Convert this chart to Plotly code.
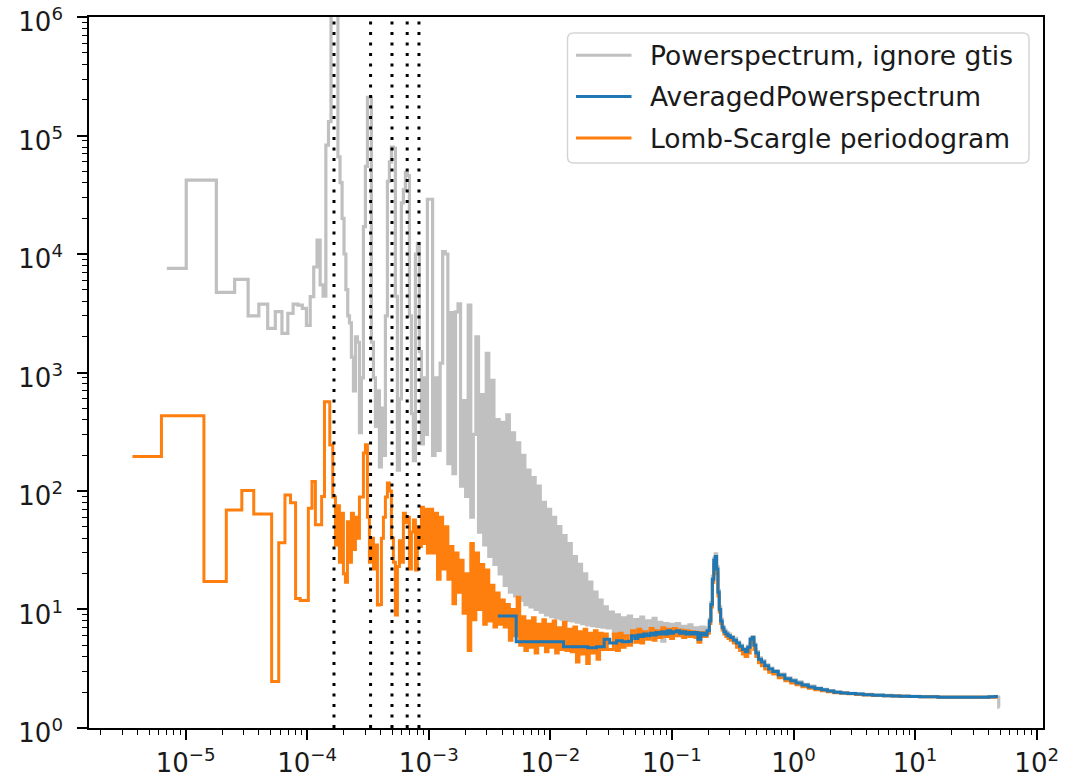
import plotly.graph_objects as go

# ---------------- data ----------------
# Powerspectrum, ignore gtis : low-frequency bins
GREY_FREQ_LOW = [7.0e-6, 1.46e-5, 2.19e-5, 2.92e-5, 3.65e-5, 4.38e-5, 5.11e-5, 5.84e-5, 6.57e-5, 7.30e-5,
                 8.03e-5, 8.76e-5, 9.49e-5, 1.022e-4, 1.095e-4, 1.168e-4, 1.241e-4, 1.314e-4, 1.387e-4, 1.46e-4,
                 1.533e-4, 1.606e-4, 1.679e-4, 1.752e-4, 1.825e-4, 1.898e-4, 1.971e-4, 2.044e-4, 2.117e-4, 2.19e-4,
                 2.263e-4]
GREY_POW_LOW = [7570, 42000, 4750, 6100, 3000, 3770, 2360, 3260, 2140, 3160,
                3780, 3700, 3480, 2500, 4370, 7770, 13100, 5500, 4400, 83000,
                131000, 2.0e6, 3.0e6, 1.5e6, 66000, 40000, 20000, 10000, 5000, 3000,
                2620]

# Lomb-Scargle periodogram : low-frequency bins
ORANGE_FREQ_LOW = [3.65e-6, 1.095e-5, 1.825e-5, 2.555e-5, 3.285e-5, 4.015e-5, 4.745e-5, 5.475e-5, 6.205e-5, 6.935e-5,
                   7.665e-5, 8.395e-5, 9.125e-5, 9.855e-5, 1.0585e-4, 1.1315e-4, 1.2045e-4, 1.2775e-4, 1.3505e-4, 1.4235e-4,
                   1.4965e-4, 1.5695e-4]
ORANGE_POW_LOW = [195, 432, 17.2, 69, 100.7, 64, 64, 2.46, 36.6, 92.5,
                  79.7, 12.4, 11.9, 11.9, 71.5, 120, 52, 52, 90, 567,
                  567, 244]

# frequencies sampled in the harmonic region (1.7e-4 .. 1e-3)
MID_FREQ = [1.674e-4, 1.739e-4, 1.806e-4, 1.875e-4, 1.948e-4, 2.023e-4, 2.101e-4, 2.183e-4, 2.267e-4, 2.354e-4,
            2.445e-4, 2.539e-4, 2.637e-4, 2.739e-4, 2.844e-4, 2.954e-4, 3.068e-4, 3.187e-4, 3.309e-4, 3.437e-4,
            3.570e-4, 3.708e-4, 3.851e-4, 3.999e-4, 4.154e-4, 4.314e-4, 4.480e-4, 4.653e-4, 4.833e-4, 5.019e-4,
            5.213e-4, 5.414e-4, 5.623e-4, 5.840e-4, 6.066e-4, 6.299e-4, 6.543e-4, 6.795e-4, 7.057e-4, 7.330e-4,
            7.612e-4, 7.907e-4, 8.212e-4, 8.529e-4, 8.858e-4, 9.200e-4, 9.556e-4, 9.924e-4]
ORANGE_POW_MID = [89, 35, 75, 25, 65, 20, 17, 55, 25, 65,
                  32, 60, 40, 89, 89, 209, 245, 60, 25, 40,
                  22, 35, 10.9, 11, 40, 60, 89, 117, 100, 40,
                  25, 9.0, 23, 38, 25, 65, 54, 60, 22, 45,
                  57, 21.5, 50, 34, 73, 36, 70, 30]
GREY_POW_MID = [1350, 700, 2000, 1800, 310, 900, 17000, 55000, 210000, 210000,
                1800, 900, 350, 700, 160, 500, 200, 3000, 41000, 60000,
                80000, 78000, 4400, 150, 600, 27000, 35000, 49000, 46000, 3000,
                450, 180, 10000, 12300, 1500, 250, 900, 300, 29000]

# frequencies sampled in the noisy region (1e-3 .. 3e-2)
DENSE_FREQ = [1.05e-3, 1.10e-3, 1.15e-3, 1.21e-3, 1.27e-3, 1.33e-3, 1.40e-3, 1.47e-3, 1.54e-3, 1.62e-3,
              1.70e-3, 1.78e-3, 1.87e-3, 1.96e-3, 2.06e-3, 2.16e-3, 2.27e-3, 2.38e-3, 2.50e-3, 2.63e-3,
              2.76e-3, 2.90e-3, 3.04e-3, 3.19e-3, 3.35e-3, 3.52e-3, 3.70e-3, 3.88e-3, 4.07e-3, 4.28e-3,
              4.49e-3, 4.71e-3, 4.95e-3, 5.20e-3, 5.46e-3, 5.73e-3, 6.02e-3, 6.32e-3, 6.63e-3, 6.96e-3,
              7.31e-3, 7.68e-3, 8.06e-3, 8.46e-3, 8.89e-3, 9.33e-3, 9.80e-3, 1.03e-2, 1.08e-2, 1.13e-2,
              1.19e-2, 1.25e-2, 1.31e-2, 1.38e-2, 1.45e-2, 1.52e-2, 1.60e-2, 1.68e-2, 1.76e-2, 1.85e-2,
              1.94e-2, 2.04e-2, 2.14e-2, 2.25e-2, 2.36e-2, 2.48e-2, 2.60e-2, 2.73e-2, 2.87e-2, 3.01e-2]
GREY_POW_DENSE = [29000, 200, 900, 220, 1200, 10500, 10000, 170, 3200, 140,
                  3250, 3800, 110, 580, 90, 3700, 60, 300, 2000, 45,
                  650, 35, 1450, 28, 860, 24, 400, 20, 380, 16,
                  440, 14, 310, 13, 255, 12, 200, 11, 150, 10.5,
                  130, 10, 110, 9.5, 80, 9.0, 70, 8.7, 60, 8.5,
                  50, 8.3, 42, 8.1, 36, 8.0, 28, 7.8, 24, 7.6,
                  20, 7.4, 17, 7.3, 14, 7.2, 12, 7.1, 10.5, 7.0]
ORANGE_POW_DENSE = [70, 30, 65, 18, 60, 22, 50, 18, 34, 11.2,
                    30, 14, 26, 9.3, 20, 4.5, 36, 8.2, 30, 10,
                    24, 7.5, 21.5, 8, 16, 7.1, 13.8, 7.5, 12, 7.1,
                    11, 5.5, 10, 6, 12.7, 5, 8.7, 4.5, 8, 4.8,
                    8.5, 4.3, 7.5, 5, 8.2, 4.4, 7.5, 4.8, 8, 4.3,
                    7, 4.6, 7.8, 4.5, 6.8, 4.4, 7.1, 3.6, 6.5, 4.2,
                    6.8, 3.5, 6.3, 4.3, 6.6, 3.8, 6.3, 4.6, 6.2, 4.6]

# frequencies sampled above 3e-2 (QPO and white-noise level)
HF_FREQ = [0.032, 0.034, 0.036, 0.038, 0.040, 0.0425, 0.045, 0.048, 0.051, 0.054,
           0.057, 0.060, 0.064, 0.068, 0.072, 0.076, 0.080, 0.085, 0.090, 0.095,
           0.100, 0.106, 0.112, 0.119, 0.126, 0.134, 0.142, 0.150, 0.159, 0.168,
           0.178, 0.189, 0.200, 0.206, 0.212, 0.218, 0.224, 0.230, 0.236, 0.242,
           0.248, 0.255, 0.263, 0.272, 0.283, 0.295, 0.31, 0.33, 0.35, 0.37,
           0.39, 0.41, 0.43, 0.45, 0.465, 0.48, 0.50, 0.53, 0.56, 0.60,
           0.65, 0.70, 0.80, 0.90, 1.0, 1.1, 1.25, 1.4, 1.6, 1.8,
           2.0, 2.3, 2.6, 3.0, 3.5, 4.0, 5.0, 6.0, 7.0, 8.0,
           10, 12, 14, 17, 20, 24, 28, 33, 38, 43,
           48]
GREY_FREQ_END = [49.5]
GREY_POW_HF = [9.5, 6.0, 9.0, 6.2, 8.5, 6.0, 8.8, 6.3, 8.2, 6.1,
               8.6, 6.4, 8.0, 6.2, 8.4, 6.5, 7.8, 5.4, 7.6, 6.3,
               7.5, 6.0, 7.6, 6.2, 7.2, 6.3, 7.4, 6.4, 7.0, 6.0,
               7.1, 6.3, 7.0, 8.3, 11.5, 19, 27, 29.5, 23, 14.5,
               10.5, 8.3, 7.2, 6.7, 6.4, 6.2, 5.9, 5.7, 5.3, 5.0,
               4.7, 4.5, 4.9, 5.7, 5.9, 5.1, 4.4, 3.9, 3.7, 3.4,
               3.2, 3.05, 2.85, 2.65, 2.55, 2.45, 2.33, 2.25, 2.17, 2.12,
               2.07, 2.02, 1.99, 1.96, 1.94, 1.92, 1.9, 1.88, 1.87, 1.86,
               1.85, 1.84, 1.84, 1.83, 1.83, 1.83, 1.83, 1.83, 1.83, 1.83,
               1.82, 1.5]
ORANGE_POW_HF = [4.6, 6.2, 4.5, 6.3, 4.8, 6.0, 5.0, 6.6, 5.3, 6.8,
                 5.2, 6.5, 5.6, 6.9, 5.5, 6.6, 5.8, 7.0, 5.9, 6.8,
                 5.7, 6.9, 6.0, 6.7, 5.8, 6.6, 5.9, 6.5, 5.8, 5.3,
                 6.4, 5.9, 6.3, 7.6, 10.5, 17, 24, 26, 20, 13,
                 9.5, 7.6, 6.7, 6.2, 5.9, 5.7, 5.5, 5.2, 4.8, 4.5,
                 4.2, 4.0, 4.3, 5.2, 5.5, 4.6, 4.0, 3.55, 3.35, 3.15,
                 2.95, 2.85, 2.65, 2.5, 2.4, 2.32, 2.23, 2.16, 2.1, 2.06,
                 2.02, 1.98, 1.96, 1.94, 1.92, 1.9, 1.88, 1.87, 1.86, 1.85,
                 1.84, 1.83, 1.83, 1.82, 1.82, 1.82, 1.82, 1.82, 1.82, 1.82,
                 1.83]

# AveragedPowerspectrum
BLUE_FREQ_LOW = [3.7e-3, 7.4e-3, 1.11e-2, 1.48e-2, 1.85e-2, 2.22e-2, 2.59e-2, 2.96e-2]
BLUE_POW_LOW = [8.8, 5.35, 5.35, 4.85, 4.85, 4.75, 4.85, 5.6]
BLUE_POW_HF = [5.2, 5.2, 5.45, 5.45, 5.35, 5.35, 5.4, 6.0, 5.7, 6.1,
               5.9, 6.2, 6.0, 6.3, 6.1, 6.4, 6.2, 6.5, 6.2, 6.6,
               6.3, 6.5, 6.6, 6.3, 6.5, 6.2, 6.4, 6.2, 6.4, 5.6,
               6.3, 6.1, 6.6, 8.0, 11, 18, 26, 28, 22, 14,
               10, 8.0, 7.0, 6.5, 6.2, 6.0, 5.8, 5.5, 5.2, 4.9,
               4.6, 4.4, 4.8, 5.6, 5.8, 5.0, 4.3, 3.8, 3.6, 3.35,
               3.15, 3.0, 2.8, 2.6, 2.5, 2.4, 2.3, 2.22, 2.15, 2.1,
               2.05, 2.0, 1.97, 1.95, 1.93, 1.91, 1.89, 1.87, 1.86, 1.85,
               1.84, 1.83, 1.83, 1.82, 1.82, 1.82, 1.82, 1.82, 1.82, 1.83,
               1.84]

# orbital frequency and harmonics (dotted lines)
HARMONIC_FREQ = [1.66e-4, 3.32e-4, 4.98e-4, 6.64e-4, 8.30e-4]

X_TICKS = [1e-5, 1e-4, 1e-3, 1e-2, 1e-1, 1e0, 1e1, 1e2]
X_TICK_TEXT = ["10<sup>\u22125</sup>", "10<sup>\u22124</sup>", "10<sup>\u22123</sup>", "10<sup>\u22122</sup>",
               "10<sup>\u22121</sup>", "10<sup>0</sup>", "10<sup>1</sup>", "10<sup>2</sup>"]
Y_TICKS = [1e0, 1e1, 1e2, 1e3, 1e4, 1e5, 1e6]
Y_TICK_TEXT = ["10<sup>0</sup>", "10<sup>1</sup>", "10<sup>2</sup>", "10<sup>3</sup>",
               "10<sup>4</sup>", "10<sup>5</sup>", "10<sup>6</sup>"]

LABELS = ["Powerspectrum, ignore gtis", "AveragedPowerspectrum", "Lomb-Scargle periodogram"]
COLORS = ["#c0c0c0", "#1f77b4", "#ff7f0e"]

# ---------------- assemble series ----------------
grey_f = GREY_FREQ_LOW + MID_FREQ[9:] + DENSE_FREQ + HF_FREQ + GREY_FREQ_END
grey_p = GREY_POW_LOW + GREY_POW_MID + GREY_POW_DENSE + GREY_POW_HF
orange_f = ORANGE_FREQ_LOW + MID_FREQ + DENSE_FREQ + HF_FREQ
orange_p = ORANGE_POW_LOW + ORANGE_POW_MID + ORANGE_POW_DENSE + ORANGE_POW_HF
blue_f = BLUE_FREQ_LOW + HF_FREQ
blue_p = BLUE_POW_LOW + BLUE_POW_HF
assert len(grey_f) == len(grey_p), (len(grey_f), len(grey_p))
assert len(orange_f) == len(orange_p), (len(orange_f), len(orange_p))
assert len(blue_f) == len(blue_p), (len(blue_f), len(blue_p))

fig = go.Figure()
fig.add_trace(go.Scatter(x=grey_f, y=grey_p, mode="lines", name=LABELS[0],
                         line=dict(color=COLORS[0], width=3.2, shape="hvh"), showlegend=False))
fig.add_trace(go.Scatter(x=orange_f, y=orange_p, mode="lines", name=LABELS[2],
                         line=dict(color=COLORS[2], width=3, shape="hvh"), showlegend=False))
fig.add_trace(go.Scatter(x=blue_f, y=blue_p, mode="lines", name=LABELS[1],
                         line=dict(color=COLORS[1], width=3, shape="hvh"), showlegend=False))

# dotted vertical lines at the harmonics
hx, hy = [], []
for f in HARMONIC_FREQ:
    hx += [f, f, None]
    hy += [Y_TICKS[0], Y_TICKS[-1], None]
fig.add_trace(go.Scatter(x=hx, y=hy, mode="lines", showlegend=False, hoverinfo="skip",
                         line=dict(color="black", width=3, dash="3px,7.5px")))

# ---------------- layout ----------------
L, R, T, B = 89, 1043, 17, 728
W, H = 1081, 778
axis_common = dict(type="log", showline=True, linecolor="black", linewidth=1.6, mirror=True,
                   ticks="outside", ticklen=10, tickwidth=1.6, tickcolor="black",
                   showgrid=False, zeroline=False, tickmode="array", automargin=False,
                   ticklabeloverflow="allow",
                   tickfont=dict(family="DejaVu Sans", size=26, color="#1a1a1a"),
                   minor=dict(ticks="outside", ticklen=5, tickwidth=1.2, tickcolor="black",
                              dtick="D1", showgrid=False))
fig.update_layout(
    template="none",
    width=W, height=H,
    margin=dict(l=L, r=W - R, t=T, b=H - B, pad=0),
    paper_bgcolor="white", plot_bgcolor="white",
    font=dict(family="DejaVu Sans", size=26, color="#1a1a1a"),
    showlegend=False,
    xaxis=dict(range=[-5.795, 2.052], tickvals=X_TICKS, ticktext=X_TICK_TEXT,
               ticklabelstandoff=1, **axis_common),
    yaxis=dict(range=[-0.0005, 6.0005], tickvals=Y_TICKS, ticktext=Y_TICK_TEXT,
               ticklabelstandoff=9, ticklabelshift=5, **axis_common),
)

# ---------------- legend (matplotlib-style box) ----------------
def pxx(px):
    return (px - L) / (R - L)

def pxy(py):
    return (B - py) / (B - T)

bx0, bx1, by0, by1, rad = 567.5, 1029.0, 33.0, 163.0, 6.0
rx, ry = rad / (R - L), rad / (B - T)
X0, X1, Y0, Y1 = pxx(bx0), pxx(bx1), pxy(by1), pxy(by0)
path = (f"M {X0+rx},{Y1} L {X1-rx},{Y1} Q {X1},{Y1} {X1},{Y1-ry} L {X1},{Y0+ry} "
        f"Q {X1},{Y0} {X1-rx},{Y0} L {X0+rx},{Y0} Q {X0},{Y0} {X0},{Y0+ry} "
        f"L {X0},{Y1-ry} Q {X0},{Y1} {X0+rx},{Y1} Z")
fig.add_shape(type="path", path=path, xref="paper", yref="paper",
              line=dict(color="#d5d5d5", width=1.5), fillcolor="rgba(255,255,255,0.8)", layer="above")
row_y = [55.2, 96.6, 138.0]
for lab, col, ypx in zip(LABELS, COLORS, row_y):
    fig.add_shape(type="line", xref="paper", yref="paper", x0=pxx(576), x1=pxx(631.5),
                  y0=pxy(ypx), y1=pxy(ypx), line=dict(color=col, width=3), layer="above")
    fig.add_annotation(text=lab, xref="paper", yref="paper", x=pxx(648), y=pxy(ypx),
                       xanchor="left", yanchor="middle", showarrow=False,
                       font=dict(family="DejaVu Sans", size=26.5, color="#1a1a1a"))

# remove the browser's default 8px page margin so the figure sits at the page origin
fig.write_html("out.html", config={"displayModeBar": False},
               post_script="document.body.style.margin='0';document.body.style.padding='0';")
